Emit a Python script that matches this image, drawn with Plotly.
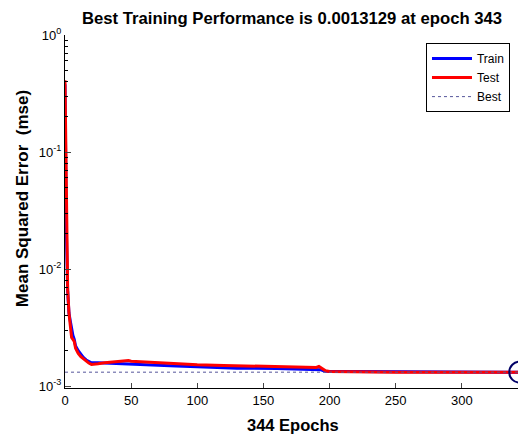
import plotly.graph_objects as go

# ---- data ----
train_epochs = [0, 1, 2, 3, 4, 5, 6, 7, 8, 10, 12, 14, 16, 18, 20, 25, 30, 40, 48, 60, 84, 100, 130, 160, 190, 193, 196, 200, 220, 245, 260, 300, 343]
train_mse = [0.38, 0.022, 0.0065, 0.0042, 0.0036, 0.0030, 0.0027, 0.0025, 0.0022, 0.0020, 0.00185, 0.00175, 0.00167, 0.00161, 0.00158, 0.00158, 0.00157, 0.00155, 0.00153, 0.00151, 0.00148, 0.00146, 0.00142, 0.00141, 0.00140, 0.00138, 0.00134, 0.00133, 0.00133, 0.00133, 0.001318, 0.001315, 0.0013129]

test_epochs = [0, 1, 2, 3, 4, 5, 6, 7, 8, 9, 10, 12, 14, 16, 18, 20, 22, 25, 30, 35, 40, 45, 48, 50, 60, 70, 84, 100, 120, 140, 160, 180, 190, 192, 194, 197, 200, 220, 250, 300, 343]
test_mse = [0.41, 0.025, 0.0068, 0.0042, 0.0033, 0.0026, 0.0025, 0.0024, 0.0021, 0.0020, 0.0019, 0.00178, 0.00170, 0.00163, 0.00157, 0.00153, 0.00153, 0.00155, 0.00158, 0.00160, 0.00161, 0.00162, 0.00165, 0.00163, 0.00161, 0.00158, 0.00154, 0.00152, 0.00150, 0.00148, 0.00147, 0.00145, 0.00144, 0.00147, 0.00142, 0.00135, 0.00133, 0.00132, 0.00131, 0.00131, 0.00131]

best_epoch = 343
best_mse = 0.0013129
n_epochs = 344

ytick_vals = [1, 0.1, 0.01, 0.001]
ytick_text = ["10<sup>0</sup>", "10<sup>-1</sup>", "10<sup>-2</sup>", "10<sup>-3</sup>"]
xtick_vals = [0, 50, 100, 150, 200, 250, 300]
minor_y = [m * d for d in (0.001, 0.01, 0.1) for m in range(2, 10)]

FONT = "Liberation Sans, Arial, Helvetica, sans-serif"

fig = go.Figure()
fig.add_trace(go.Scatter(x=train_epochs, y=train_mse, mode="lines", name="Train",
                         line=dict(color="#0000ff", width=3)))
fig.add_trace(go.Scatter(x=test_epochs, y=test_mse, mode="lines", name="Test",
                         line=dict(color="#ff0000", width=3)))
fig.add_trace(go.Scatter(x=[0, n_epochs], y=[best_mse, best_mse], mode="lines", name="Best",
                         line=dict(color="#55559a", width=1, dash="dot")))
fig.add_trace(go.Scatter(x=[best_epoch + 0.8, best_epoch + 0.8], y=[1e-3 * 0.96, 1.0], mode="lines",
                         showlegend=False, cliponaxis=False,
                         line=dict(color="#444444", width=1, dash="dot")))
fig.add_trace(go.Scatter(x=[best_epoch + 0.8], y=[best_mse], mode="markers", showlegend=False,
                         cliponaxis=False,
                         marker=dict(symbol="circle-open", size=21,
                                     line=dict(color="#000066", width=2), color="#000066")))

# the page body adds an 8px offset; margins compensate for it
fig.update_layout(
    width=526, height=436,
    margin=dict(l=57, r=14, t=27, b=56, autoexpand=False),
    paper_bgcolor="white", plot_bgcolor="white",
    font=dict(family=FONT, size=13, color="black"),
    title=dict(text=f"<b>Best Training Performance is {best_mse} at epoch {best_epoch}</b>",
               x=0.54, xanchor="center", y=0.977, yanchor="middle",
               font=dict(family=FONT, size=16.7, color="black")),
    legend=dict(x=0.978, y=0.977, xanchor="right", yanchor="top",
                bordercolor="black", borderwidth=1, bgcolor="white",
                font=dict(family=FONT, size=12), tracegroupgap=0,
                itemwidth=40),
    showlegend=True,
    annotations=[
        dict(text="<b>344 Epochs</b>", xref="paper", yref="paper", x=0.5, y=-0.106,
             xanchor="center", yanchor="middle", showarrow=False,
             font=dict(family=FONT, size=16.5)),
        dict(text="<b>Mean Squared Error  (mse)</b>", xref="paper", yref="paper",
             x=-0.0945, y=0.535, xanchor="center", yanchor="middle", textangle=-90,
             showarrow=False, font=dict(family=FONT, size=17)),
    ],
)
fig.update_xaxes(range=[0, n_epochs], tickvals=xtick_vals, ticks="inside", ticklen=5,
                 showline=True, linecolor="black", linewidth=1, mirror=False,
                 showgrid=False, zeroline=False, automargin=False,
                 tickfont=dict(family=FONT, size=13))
fig.update_yaxes(type="log", range=[-3.017, 0], tickvals=ytick_vals, ticktext=ytick_text,
                 ticks="inside", ticklen=6,
                 minor=dict(tickvals=minor_y, ticks="inside", ticklen=3, tickcolor="black"),
                 showline=True, linecolor="black", linewidth=1, mirror=False,
                 showgrid=False, zeroline=False, automargin=False,
                 tickfont=dict(family=FONT, size=13))

fig.write_html("out.html")
